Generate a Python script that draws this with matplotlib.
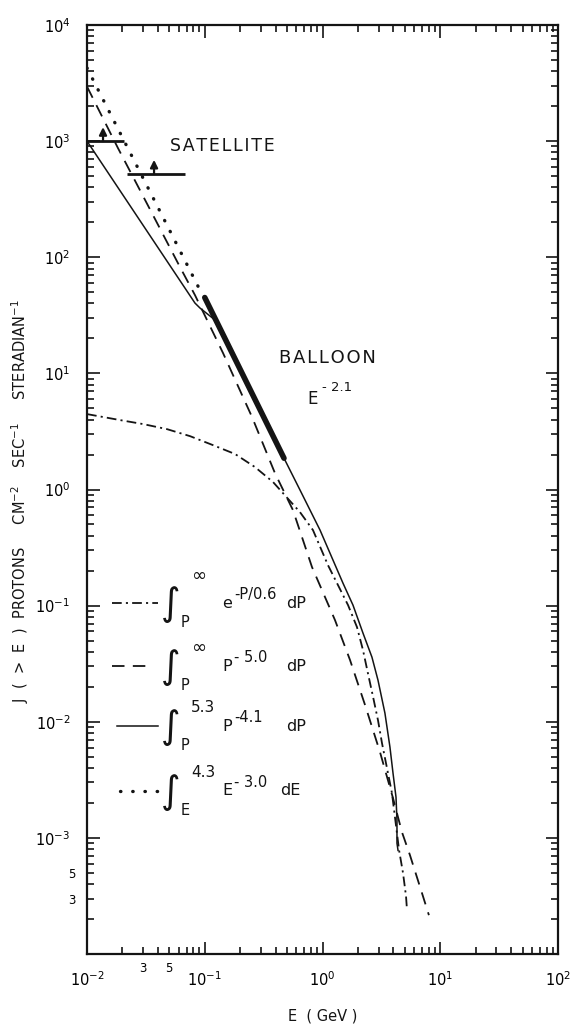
import math
import matplotlib
matplotlib.use("Agg")
import matplotlib.pyplot as plt
from matplotlib.ticker import LogLocator, FuncFormatter

plt.rcParams['font.family'] = ['DejaVu Sans']
plt.rcParams['mathtext.default'] = 'regular'
plt.rcParams['lines.scale_dashes'] = False

# curves (E in GeV, J in protons cm^-2 s^-1 sr^-1)
dashdot_E = [0.01, 0.0191, 0.0299, 0.0478, 0.075, 0.1175, 0.181, 0.267, 0.38, 0.644, 0.83,
             1.113, 1.648, 1.963, 2.207, 2.43, 2.68, 2.96, 3.20, 3.89, 4.47, 4.83, 5.12, 5.22]
dashdot_J = [4.46, 3.96, 3.66, 3.31, 2.88, 2.41, 2.02, 1.56, 1.16, 0.638, 0.447,
             0.223, 0.101, 0.0653, 0.0414, 0.0262, 0.0166, 0.0103, 0.00655, 0.00243, 7.83e-4, 4.97e-4, 3.15e-4, 2.38e-4]

dashed_E = [0.01, 0.0183, 0.0356, 0.0616, 0.0826, 0.143, 0.252, 0.395, 0.561, 0.814, 1.277,
            1.713, 2.30, 3.08, 3.97, 4.73, 5.53, 7.00, 8.01]
dashed_J = [2950, 873, 240, 82.4, 47.2, 14.96, 4.21, 1.38, 0.665, 0.215, 0.075,
            0.034, 0.0139, 0.00547, 0.0022, 0.00112, 7.1e-4, 3.34e-4, 2.16e-4]

solid_E = [0.01, 0.0826, 0.0912, 0.125, 0.471, 0.644, 0.953, 1.227, 1.493, 1.815, 2.207,
           2.63, 2.96, 3.39, 3.74, 3.97, 4.21, 4.29, 4.29, 4.38]
solid_J = [1000, 40.3, 36.5, 28.3, 1.86, 0.99, 0.447, 0.247, 0.156, 0.101, 0.058,
           0.036, 0.0228, 0.01186, 0.00604, 0.00361, 0.00224, 0.00142, 9.0e-4, 7.8e-4]

dotted_E = [0.01, 0.0478, 0.0929]
dotted_J = [4266, 189, 50.1]

balloon_E = [0.1, 0.471]
balloon_J = [45, 1.86]

sat_E0 = [0.01, 0.0219]
sat_E1 = [0.0206, 0.068]
sat_J = [1000, 521]
sat_arrow_E = [0.01368, 0.0371]
sat_arrow_tip = [1320, 690]

# legend rows: upper limit, lower limit, integrand base, exponent, differential
leg_upper = ['\u221e', '\u221e', '5.3', '4.3']
leg_lower = ['P', 'P', 'P', 'E']
leg_base = ['e', 'P', 'P', 'E']
leg_exp = ['-P/0.6', '- 5.0', '-4.1', '- 3.0']
leg_diff = ['dP', 'dP', 'dP', 'dE']

ink = '#141414'
hs = '\u200a'

fig = plt.figure(figsize=(5.72, 10.25), dpi=100)
ax = fig.add_axes([87/572, 71/1025, 471/572, 929/1025])
ax.set_xscale('log')
ax.set_yscale('log')
ax.set_xlim(1e-2, 1e2)
ax.set_ylim(1e-4, 1e4)

styles = [dict(lw=1.3, dashes=[7, 3, 1.5, 3]),
          dict(lw=1.3, dashes=[9, 6]),
          dict(lw=1.1),
          dict(lw=2.4, dashes=[0.3, 8.5], dash_capstyle='round')]

ax.plot(dashdot_E, dashdot_J, color=ink, **styles[0])
ax.plot(dashed_E, dashed_J, color=ink, **styles[1])
ax.plot(solid_E, solid_J, color=ink, **styles[2])
ax.plot(dotted_E, dotted_J, color=ink, **styles[3])
ax.plot(balloon_E, balloon_J, color=ink, lw=4, solid_capstyle='round')

ax.hlines(sat_J, sat_E0, sat_E1, color=ink, lw=2)
for x, y0, y1 in zip(sat_arrow_E, sat_J, sat_arrow_tip):
    ax.annotate('', xy=(x, y1), xytext=(x, y0),
                arrowprops=dict(arrowstyle='-|>', color=ink, lw=1.6, mutation_scale=11,
                                shrinkA=0, shrinkB=0))

ax.text(0.0506, 908, hs.join('SATELLITE'), fontsize=12.5, va='center', ha='left', color=ink)
ax.text(0.428, 13.6, hs.join('BALLOON'), fontsize=13, va='center', ha='left', color=ink)
ax.text(0.738, 6.0, 'E', fontsize=12, va='center', ha='left', color=ink)
ax.text(1.0, 7.5, '- 2.1', fontsize=9.5, va='center', ha='left', color=ink)

# hand-drawn style legend in the lower left
row_y = [0.3778, 0.3100, 0.2454, 0.1755]
upper_dy = [0.029, 0.019, 0.020, 0.020]
upper_fs = [13, 13, 11, 11]
key_x = [(0.053, 0.151), (0.053, 0.125), (0.064, 0.151), (0.070, 0.161)]
diff_x = [0.4225, 0.4225, 0.4225, 0.410]
for i in range(4):
    y = row_y[i]
    ax.plot(key_x[i], [y, y], transform=ax.transAxes, color=ink, **styles[i])
    kw = dict(transform=ax.transAxes, color=ink, va='center')
    ax.text(0.156, y - 0.002, '\u222b', fontsize=27, ha='left', **kw)
    ax.text(0.221, y + upper_dy[i], leg_upper[i], fontsize=upper_fs[i], ha='left', **kw)
    ax.text(0.198, y - 0.021, leg_lower[i], fontsize=10.5, ha='left', **kw)
    ax.text(0.287, y, leg_base[i], fontsize=11.5, ha='left', **kw)
    ax.text(0.313, y + 0.009, leg_exp[i], fontsize=10.5, ha='left', **kw)
    ax.text(diff_x[i], y, leg_diff[i], fontsize=11.5, ha='left', **kw)

# ticks
def major_fmt(v, pos):
    if v < 2e-4:
        return ''
    return r'$10^{%d}$' % round(math.log10(v))

def xminor_fmt(v, pos):
    for d, s in ((3, '3'), (5, '5')):
        if abs(v - d * 1e-2) < 1e-6:
            return s
    return ''

def yminor_fmt(v, pos):
    for d, s in ((3, '3'), (5, '5')):
        if abs(v - d * 1e-4) < 1e-9:
            return s
    return ''

for axis in (ax.xaxis, ax.yaxis):
    axis.set_major_locator(LogLocator(base=10, numticks=20))
    axis.set_minor_locator(LogLocator(base=10, subs=range(2, 10), numticks=20))
    axis.set_major_formatter(FuncFormatter(major_fmt))
ax.xaxis.set_minor_formatter(FuncFormatter(xminor_fmt))
ax.yaxis.set_minor_formatter(FuncFormatter(yminor_fmt))

ax.tick_params(which='both', direction='in', top=True, right=True, color=ink, width=1.2)
ax.tick_params(which='major', length=9, labelsize=10.5, pad=12)
ax.tick_params(which='minor', length=5, labelsize=8.5)
ax.tick_params(axis='x', which='minor', pad=6)
ax.tick_params(axis='y', which='minor', pad=8)
for s in ax.spines.values():
    s.set_linewidth(1.6)
    s.set_color(ink)

ax.set_xlabel('E  ( GeV )', fontsize=10.5, labelpad=14, color=ink)
fig.text(20/572, 1 - 501/1025,
         r'J  (  >  E  )  PROTONS     CM$^{-2}$    SEC$^{-1}$     STERADIAN$^{-1}$',
         rotation=90, fontsize=10.5, ha='center', va='center', color=ink)

fig.savefig('out.png', dpi=100)
